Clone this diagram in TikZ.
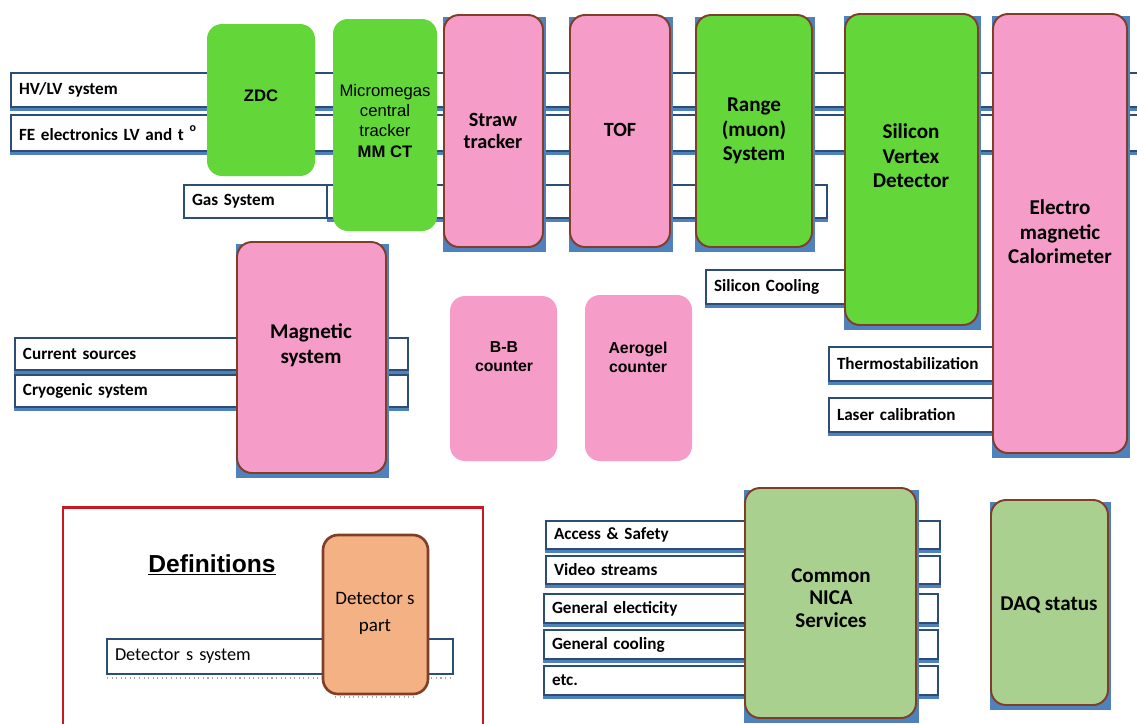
\documentclass[tikz,border=0pt]{standalone}
\usepackage{fontspec}
\setmainfont{Carlito}
\newfontfamily\arialf{Liberation Sans}
\definecolor{gr}{RGB}{99,214,58}
\definecolor{pk}{RGB}{245,156,200}
\definecolor{lg}{RGB}{169,208,142}
\definecolor{og}{RGB}{244,177,131}
\definecolor{brn}{RGB}{128,62,40}
\definecolor{ublue}{RGB}{79,129,189}
\definecolor{bblue}{RGB}{44,77,117}
\definecolor{rframe}{RGB}{200,25,35}
\tikzset{
  barbox/.style={draw=bblue, line width=0.8pt, fill=white, inner xsep=0.16cm, inner ysep=0pt, align=left, font=\bfseries\fontsize{9.75}{11}\selectfont},
  blk/.style={rounded corners=0.3cm, inner sep=0pt},
  blkb/.style={blk, draw=brn, line width=1.1pt},
  lbl/.style={align=center, font=\bfseries\fontsize{12}{14}\selectfont, inner sep=0pt},
  albl/.style={align=center, font=\arialf\bfseries\fontsize{9.5}{11}\selectfont, inner sep=0pt},
}
\newcommand\Bar[6]{%
  \fill[ublue] (#2-1,#3+4) rectangle (#4+1,#5+4);
  \node[barbox, minimum width={(#4-#2)*0.02cm}, minimum height={(#5-#3)*0.02cm}, text width={(#4-#2-16)*0.02cm}] (#1) at ({(#2+#4)/2},{(#3+#5)/2}) {#6};}
\newcommand\Blk[6]{%
  \node[#6, minimum width={(#4-#2)*0.02cm}, minimum height={(#5-#3)*0.02cm}] (#1) at ({(#2+#4)/2},{(#3+#5)/2}) {};}
\newcommand\Under[4]{\fill[ublue] (#1-1,#2+2) rectangle (#3+3,#4+5);}
\begin{document}
\begin{tikzpicture}[x=0.02cm,y=-0.02cm]
\useasboundingbox (0,0) rectangle (1137,724);
% ---- bars
\Bar{hv}{11}{73}{1145}{107}{HV/LV system}
\Bar{fe}{11}{115}{1145}{151}{FE electronics LV and t \raisebox{0.3ex}{\textsuperscript{o}}}
\fill[ublue] (327,189) rectangle (828,222);
\node[barbox, minimum width={(827-184)*0.02cm}, minimum height={(218-185)*0.02cm}, text width={(827-184-16)*0.02cm}] (gas) at ({(184+827)/2},{(185+218)/2}) {Gas System};
\coordinate (gd1) at (327,185);
\coordinate (gd2) at (327,218);
\draw[bblue, line width=0.8pt] (gd1) -- (gd2);
\Bar{sic}{706}{270}{850}{304}{Silicon Cooling}
\Bar{cur}{15}{338}{408}{370}{Current sources}
\Bar{cryo}{15}{375}{408}{407}{Cryogenic system}
\Bar{thermo}{829}{347}{995}{381}{Thermostabilization}
\Bar{laser}{829}{398}{995}{432}{Laser calibration}
\Bar{acc}{546}{521}{940}{549}{Access \& Safety}
\Bar{vid}{546}{556}{940}{584}{Video streams}
\Bar{elec}{544}{594}{938}{623}{General electicity}
\Bar{cool}{544}{630}{938}{659}{General cooling}
\Bar{etc}{544}{666}{938}{695}{etc.}
% ---- underlays
\Under{444}{15}{543}{247}
\Under{570}{15}{670}{247}
\Under{696}{15}{812}{247}
\Under{845}{14}{978}{325}
\Under{993}{14}{1127}{453}
\Under{237}{242}{386}{473}
\Under{745}{488}{916}{718}
\Under{991}{500}{1108}{705}
% ---- blocks
\Blk{zdc}{207}{24}{315}{176}{blk, fill=gr}
\Blk{mmct}{333}{19}{437}{231}{blk, fill=gr}
\Blk{straw}{444}{15}{543}{247}{blkb, fill=pk}
\Blk{tof}{570}{15}{670}{247}{blkb, fill=pk}
\Blk{range}{696}{15}{812}{247}{blkb, fill=gr}
\Blk{svd}{845}{14}{978}{325}{blkb, fill=gr}
\Blk{emc}{993}{14}{1127}{453}{blkb, fill=pk}
\Blk{mag}{237}{242}{386}{473}{blkb, fill=pk}
\Blk{bb}{450}{296}{557}{461}{blk, fill=pk}
\Blk{aero}{585}{295}{692}{461}{blk, fill=pk}
\Blk{nica}{745}{488}{916}{718}{blkb, fill=lg}
\Blk{daq}{991}{500}{1108}{705}{blkb, fill=lg}
% ---- labels
\node[albl] (zdc-t) at (261,96) {ZDC};
\node[align=center, inner sep=0pt, font=\arialf\fontsize{9.5}{11.4}\selectfont] (mmct-t) at (385,121) {Micromegas\\central\\tracker\\\textbf{MM CT}};
\node[lbl, font=\bfseries\fontsize{11.5}{13}\selectfont] (straw-t) at (493,131) {Straw\\tracker};
\node[lbl, font=\bfseries\fontsize{11.5}{13}\selectfont] (tof-t) at (620,130) {TOF};
\node[lbl] (range-t) at (754,131) {Range\\(muon)\\System};
\node[lbl] (svd-t) at (911,156) {Silicon\\Vertex\\Detector};
\node[lbl] (emc-t) at (1060,232) {Electro\\magnetic\\Calorimeter};
\node[lbl] (mag-t) at (311,345) {Magnetic\\system};
\node[albl, font=\arialf\bfseries\fontsize{9}{10.8}\selectfont] (bb-t) at (504,357) {B-B\\counter};
\node[albl, font=\arialf\bfseries\fontsize{9}{10.8}\selectfont] (aero-t) at (638,357) {Aerogel\\counter};
\node[lbl, font=\bfseries\fontsize{12}{13}\selectfont] (nica-t) at (831,598) {Common\\NICA\\Services};
\node[lbl] (daq-t) at (1049,605) {DAQ status};
% ---- definitions
\draw[rframe, line width=1.7pt] (63,507) rectangle (483,740);
\node[inner sep=0pt, font=\arialf\bfseries\fontsize{14}{16}\selectfont] (defs) at (212,565) {\underline{Definitions}};
\node[draw=bblue, line width=0.8pt, fill=white, inner xsep=0.16cm, inner ysep=0pt, align=left, font=\fontsize{10.4}{12}\selectfont, minimum width={(453-107)*0.02cm}, minimum height={(674-639)*0.02cm}, text width={(453-107-16)*0.02cm}] (dsys) at ({(107+453)/2},{(639+674)/2}) {Detector s system};
\coordinate (dl1) at (107,678);
\coordinate (dl2) at (453,678);
\draw[gray!70, dotted, line width=0.6pt] (dl1) -- (dl2);
\coordinate (dl3) at (335,697);
\coordinate (dl4) at (415,697);
\draw[gray!70, dotted, line width=0.6pt] (dl3) -- (dl4);
\Blk{part}{323}{535}{428}{694}{blk, draw=brn, line width=1.5pt, fill=og}
\node[align=center, inner sep=0pt, font=\fontsize{10.8}{15.4}\selectfont] (part-t) at (375,613) {Detector s\\part};
\end{tikzpicture}
\end{document}
